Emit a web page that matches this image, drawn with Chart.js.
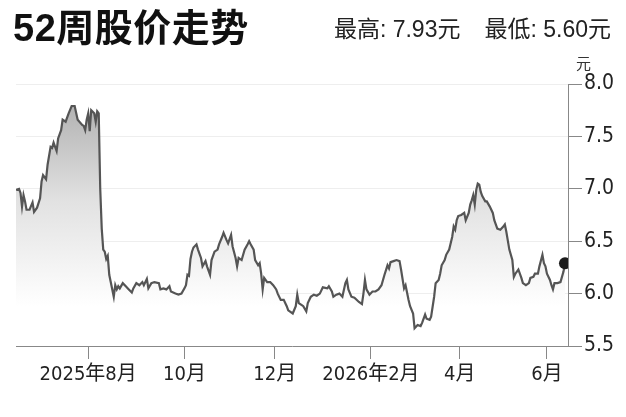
<!DOCTYPE html>
<html>
<head>
<meta charset="utf-8">
<script src="https://cdn.jsdelivr.net/npm/chart.js@4.4.1/dist/chart.umd.min.js"></script>
<style>
  html, body { margin: 0; padding: 0; background: #fff; }
  #wrap { position: relative; width: 626px; height: 417px; overflow: hidden; }
  #priceChart { position: absolute; left: 0; top: 0; }
  .title {
    position: absolute; left: 13px; top: 6px;
    font: bold 38px "Liberation Sans", "Noto Sans CJK SC", sans-serif;
    color: #111; line-height: 44px; white-space: nowrap; letter-spacing: 0.5px;
  }
  .range {
    position: absolute; right: 15px; top: 15px;
    font: 23px "Liberation Sans", "Noto Sans CJK SC", sans-serif;
    color: #222; line-height: 28px; white-space: nowrap;
  }
  .range span + span { margin-left: 24px; }
  .unit {
    position: absolute; left: 576px; top: 54px;
    font: 15px "Noto Sans CJK SC", sans-serif;
    color: #333; line-height: 18px;
  }
</style>
</head>
<body>
<div id="wrap">
  <canvas id="priceChart" width="626" height="417"></canvas>
  <div class="title">52周股价走势</div>
  <div class="range"><span>最高: 7.93元</span><span>最低: 5.60元</span></div>
  <div class="unit">元</div>
</div>
<script>
// days counted from 2025-06-13, closing price in 元
const days = [
  0, 2, 3, 4, 5, 6, 7, 9, 11, 12, 14, 16, 17, 18, 20, 21, 23, 24, 25, 27,
  28, 30, 31, 33, 35, 37, 39, 41, 44, 45, 46, 47, 48, 49, 50, 52, 53, 54, 55, 56,
  57, 58, 59, 60, 61, 62, 65, 66, 67, 68, 69, 71, 73, 75, 77, 78, 80, 82, 84, 85,
  87, 88, 90, 92, 95, 96, 98, 100, 102, 103, 106, 108, 110, 112, 113, 114, 115, 116, 117, 118,
  120, 121, 123, 124, 126, 127, 129, 130, 132, 134, 135, 137, 138, 140, 141, 143, 144, 146, 147, 148,
  150, 152, 154, 155, 156, 158, 159, 161, 162, 163, 164, 165, 167, 169, 171, 173, 174, 176, 178, 180,
  181, 184, 186, 187, 188, 190, 191, 193, 194, 196, 198, 200, 202, 204, 207, 208, 210, 211, 213, 215,
  217, 219, 220, 221, 223, 225, 228, 230, 231, 232, 233, 235, 237, 239, 241, 243, 245, 247, 248, 249,
  251, 253, 255, 256, 258, 259, 261, 262, 264, 265, 267, 269, 270, 272, 273, 275, 276, 278, 279, 281,
  282, 283, 285, 286, 288, 290, 291, 292, 293, 294, 296, 298, 299, 301, 302, 303, 304, 305, 306, 307,
  308, 309, 310, 312, 313, 315, 317, 318, 320, 322, 324, 325, 326, 328, 330, 331, 332, 334, 336, 337,
  339, 341, 342, 344, 345, 347, 348, 350, 351, 352, 353, 355, 356, 357, 358, 360, 362, 364, 365
];
const prices = [
  6.99, 7.00, 6.96, 6.83, 6.94, 6.88, 6.80, 6.80, 6.87, 6.78, 6.82, 6.91, 7.07, 7.13, 7.09, 7.23, 7.40, 7.39, 7.44, 7.36,
  7.48, 7.56, 7.66, 7.64, 7.72, 7.79, 7.79, 7.66, 7.61, 7.60, 7.56, 7.66, 7.72, 7.55, 7.75, 7.72, 7.64, 7.74, 7.72, 7.00,
  6.62, 6.42, 6.40, 6.33, 6.36, 6.18, 5.97, 6.08, 6.04, 6.07, 6.05, 6.10, 6.07, 6.04, 6.01, 6.05, 6.10, 6.08, 6.11, 6.08,
  6.14, 6.05, 6.10, 6.11, 6.10, 6.04, 6.05, 6.04, 6.07, 6.02, 6.00, 5.99, 6.00, 6.05, 6.08, 6.18, 6.17, 6.33, 6.40, 6.44,
  6.47, 6.42, 6.34, 6.26, 6.31, 6.26, 6.18, 6.32, 6.40, 6.42, 6.47, 6.54, 6.58, 6.51, 6.48, 6.56, 6.45, 6.34, 6.26, 6.34,
  6.32, 6.42, 6.47, 6.50, 6.47, 6.42, 6.32, 6.27, 6.29, 6.19, 6.04, 6.15, 6.11, 6.11, 6.08, 6.04, 6.00, 5.94, 5.94, 5.88,
  5.84, 5.81, 5.88, 5.99, 5.91, 5.89, 5.88, 5.83, 5.91, 5.97, 5.99, 5.98, 6.00, 6.06, 6.05, 6.07, 6.02, 5.97, 5.99, 6.00,
  5.97, 6.10, 6.13, 6.04, 5.97, 5.96, 5.92, 5.90, 6.00, 6.13, 6.04, 5.99, 6.02, 6.02, 6.04, 6.08, 6.18, 6.27, 6.24, 6.30,
  6.31, 6.32, 6.31, 6.23, 6.05, 6.08, 5.94, 5.88, 5.81, 5.67, 5.70, 5.69, 5.72, 5.80, 5.76, 5.75, 5.78, 5.97, 6.10, 6.13,
  6.19, 6.27, 6.32, 6.37, 6.42, 6.54, 6.64, 6.61, 6.70, 6.74, 6.75, 6.77, 6.70, 6.77, 6.85, 6.89, 6.94, 6.85, 6.99, 7.05,
  7.04, 6.97, 6.93, 6.88, 6.88, 6.83, 6.77, 6.70, 6.62, 6.61, 6.64, 6.66, 6.59, 6.42, 6.32, 6.16, 6.19, 6.23, 6.15, 6.10,
  6.08, 6.10, 6.15, 6.16, 6.19, 6.19, 6.26, 6.37, 6.29, 6.26, 6.19, 6.13, 6.08, 6.04, 6.10, 6.10, 6.11, 6.21, 6.29
];

// x-axis month marks (day offsets as placed in the picture)
const tickDays = [48, 112, 172, 236, 295, 353];
const tickLabels = ['2025年8月', '10月', '12月', '2026年2月', '4月', '6月'];

const yMin = 5.5;
const yMax = 8.0;
const yStep = 0.5;

const narrowFont = "'Liberation Sans Narrow', 'Arial Narrow', 'DejaVu Sans Condensed', 'Noto Sans CJK SC', sans-serif";

const points = days.map((d, i) => ({ x: d, y: prices[i] }));
const lastIndex = points.length - 1;

const ctx = document.getElementById('priceChart').getContext('2d');
new Chart(ctx, {
    type: 'line',
    data: {
        datasets: [{
            data: points,
            borderColor: '#555',
            borderWidth: 2.2,
            tension: 0,
            fill: 'start',
            backgroundColor: (c) => {
                const area = c.chart.chartArea;
                if (!area) return 'rgba(200,200,200,0.5)';
                const g = c.chart.ctx.createLinearGradient(0, area.top, 0, area.bottom);
                g.addColorStop(0, 'rgb(168,168,168)');
                g.addColorStop(0.45, 'rgb(226,226,226)');
                g.addColorStop(0.85, 'rgb(255,255,255)');
                return g;
            },
            pointRadius: (c) => c.dataIndex === lastIndex ? 6 : 0,
            pointBackgroundColor: '#1c1c1c',
            pointBorderColor: '#1c1c1c',
            pointBorderWidth: 0,
        }]
    },
    options: {
        responsive: false,
        animation: false,
        layout: { padding: { left: 16, top: 84, right: 0, bottom: 0 } },
        plugins: {
            legend: { display: false },
            tooltip: { enabled: false },
        },
        scales: {
            x: {
                type: 'linear',
                min: 0,
                max: 367,
                afterBuildTicks: (scale) => {
                    scale.ticks = tickDays.map(v => ({ value: v }));
                },
                afterFit: (scale) => { scale.height = 71; },
                ticks: {
                    autoSkip: false,
                    maxRotation: 0,
                    padding: 4,
                    color: '#222',
                    font: { family: narrowFont, size: 20 },
                    callback: (v) => tickLabels[tickDays.indexOf(v)] || '',
                },
                grid: {
                    drawOnChartArea: false,
                    drawTicks: true,
                    tickLength: 13,
                    tickColor: '#888',
                },
                border: { display: true, color: '#888', width: 1 },
            },
            y: {
                position: 'right',
                min: yMin,
                max: yMax,
                afterFit: (scale) => { scale.width = 58; },
                ticks: {
                    stepSize: yStep,
                    padding: 2,
                    color: '#222',
                    font: { family: narrowFont, size: 21 },
                    callback: (v) => v.toFixed(1),
                },
                grid: {
                    color: '#eeeeee',
                    tickColor: '#888',
                    tickLength: 14,
                },
                border: { display: true, color: '#888', width: 1 },
            }
        }
    }
});
</script>
</body>
</html>
